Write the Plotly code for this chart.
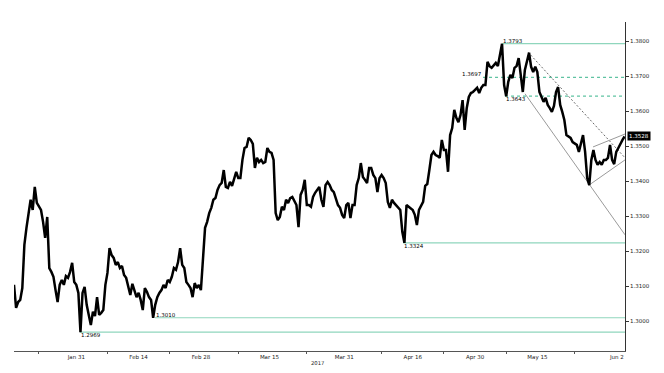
import pandas as pd
import plotly.graph_objects as go

# USD/CAD, 3 readings per trading day (00:00, 08:00, 16:00), 17 Jan - 2 Jun 2017
prices = [
    1.3104, 1.3038, 1.3055, 1.3061, 1.3095, 1.3218, 1.3267, 1.3312, 1.3347,
    1.3318, 1.3384, 1.3338, 1.3327, 1.3318, 1.3284, 1.3238, 1.3298, 1.3152,
    1.3141, 1.3127, 1.3089, 1.3055, 1.3104, 1.3118, 1.3104, 1.3129, 1.3124,
    1.3141, 1.3167, 1.3112, 1.3104, 1.3081, 1.2969, 1.3081, 1.3098, 1.3047,
    1.3018, 1.2989, 1.3027, 1.3015, 1.3069, 1.3018, 1.3024, 1.3032, 1.3104,
    1.3138, 1.3209, 1.3189, 1.3181, 1.3161, 1.3169, 1.3152, 1.3158, 1.3132,
    1.3124, 1.3095, 1.3075, 1.3107, 1.3089, 1.3069, 1.3081, 1.3061, 1.3032,
    1.3095, 1.3084, 1.3069, 1.3061, 1.3010, 1.3047, 1.3069, 1.3081, 1.3089,
    1.3104, 1.3095, 1.3118, 1.3112, 1.3127, 1.3152, 1.3147, 1.3169, 1.3209,
    1.3161, 1.3152, 1.3112, 1.3104, 1.3095, 1.3069, 1.3109, 1.3095, 1.3104,
    1.3089, 1.3184, 1.3267, 1.3284, 1.3309, 1.3324, 1.3347, 1.3352, 1.3375,
    1.3389, 1.3395, 1.3432, 1.3384, 1.3381, 1.3398, 1.3387, 1.3404, 1.3427,
    1.3409, 1.3409, 1.3461, 1.3495, 1.3498, 1.3524, 1.3518, 1.3507, 1.3438,
    1.3467, 1.3455, 1.3461, 1.3452, 1.3455, 1.3495, 1.3484, 1.3481, 1.3461,
    1.3309, 1.3289, 1.3298, 1.3327, 1.3318, 1.3347, 1.3338, 1.3352, 1.3355,
    1.3341, 1.3332, 1.3269, 1.3361, 1.3375, 1.3404, 1.3332, 1.3332, 1.3327,
    1.3355, 1.3367, 1.3375, 1.3384, 1.3347, 1.3327, 1.3389, 1.3398, 1.3389,
    1.3375, 1.3369, 1.3347, 1.3332, 1.3324, 1.3304, 1.3295, 1.3332, 1.3338,
    1.3295, 1.3332, 1.3332, 1.3389, 1.3409, 1.3452, 1.3412, 1.3404, 1.3395,
    1.3438, 1.3438, 1.3418, 1.3409, 1.3369, 1.3409, 1.3418, 1.3409, 1.3395,
    1.3341, 1.3324, 1.3347, 1.3338, 1.3332, 1.3327, 1.3318, 1.3255, 1.3224,
    1.3332, 1.3327, 1.3321, 1.3318, 1.3304, 1.3275, 1.3318, 1.3332, 1.3341,
    1.3387, 1.3392, 1.3432, 1.3475, 1.3484, 1.3475, 1.3472, 1.3467, 1.3518,
    1.3489, 1.3489, 1.3427, 1.3532, 1.3552, 1.3604, 1.3581, 1.3569, 1.3589,
    1.3632, 1.3547, 1.3609, 1.3641, 1.3652, 1.3655, 1.3661, 1.3667, 1.3652,
    1.3667, 1.3675, 1.3675, 1.3741, 1.3729, 1.3724, 1.3732, 1.3738, 1.3729,
    1.3761, 1.3793, 1.3675, 1.3643, 1.3684, 1.3704, 1.3695, 1.3724, 1.3729,
    1.3752, 1.3704, 1.3655, 1.3718, 1.3741, 1.3767, 1.3727, 1.3712, 1.3727,
    1.3712, 1.3655, 1.3638, 1.3627, 1.3638, 1.3618, 1.3609, 1.3598, 1.3615,
    1.3655, 1.3669, 1.3618, 1.3598, 1.3575, 1.3532, 1.3529, 1.3524, 1.3512,
    1.3507, 1.3504, 1.3484, 1.3512, 1.3532, 1.3484, 1.3409, 1.3389, 1.3461,
    1.3489, 1.3461, 1.3447, 1.3455, 1.3447, 1.3461, 1.3461, 1.3467, 1.3504,
    1.3461, 1.3449, 1.3484, 1.3495, 1.3509, 1.3518, 1.3528,
]
last_price = 1.3528

days = pd.bdate_range("2017-01-17", "2017-06-02")
times = [d + pd.Timedelta(hours=h) for d in days for h in (0, 8, 16)][:len(prices)]

x_start = "2017-01-17 00:00"
x_end = "2017-06-02 01:40"

# support / resistance levels
level_vals = [1.3793, 1.3697, 1.3643, 1.3224, 1.3010, 1.2969]
level_from = ["2017-05-05 08:00", "2017-05-02 06:45", "2017-05-05 19:30",
              "2017-04-13 10:30", "2017-02-16 15:00", "2017-01-31 14:00"]
level_dash = ["solid", "dash", "dash", "solid", "solid", "solid"]
level_text = ["1.3793", "1.3697", "1.3643", "1.3324", "1.3010", "1.2969"]
level_pos = ["above", "left", "below", "below", "above", "below"]

# trend lines (start, end)
trend_lower = (["2017-05-11 00:30", x_end], [1.3650, 1.3247])
trend_upper = (["2017-05-11 12:00", x_end], [1.3769, 1.3467])
chan_upper = (["2017-05-25 22:30", x_end], [1.3498, 1.3535])
chan_lower = (["2017-05-25 07:00", x_end], [1.3389, 1.3461])

y_ticks = [1.30, 1.31, 1.32, 1.33, 1.34, 1.35, 1.36, 1.37, 1.38]
x_label_vals = ["2017-01-31", "2017-02-14", "2017-02-28", "2017-03-15",
                "2017-03-31", "2017-04-17", "2017-05-01", "2017-05-15"]
x_label_text = ["Jan 31", "Feb 14", "Feb 28", "Mar 15", "Mar 31", "Apr 16",
                "Apr 30", "May 15"]
x_minor_vals = ["2017-01-23", "2017-02-07", "2017-02-21", "2017-03-08",
                "2017-03-23", "2017-04-10", "2017-04-24", "2017-05-08",
                "2017-05-23"]

GREEN = "#8fd6bd"
GREEN_D = "#5fc3a2"
FONT = "DejaVu Sans"

fig = go.Figure()

for v, x0, dash in zip(level_vals, level_from, level_dash):
    fig.add_trace(go.Scatter(
        x=[x0, x_end], y=[v, v], mode="lines", hoverinfo="skip",
        line=dict(color=GREEN if dash == "solid" else GREEN_D, width=1.2,
                  dash="solid" if dash == "solid" else "3px,3px")))

for xs, ys, dash, col in [
    (*trend_lower, "solid", "#9a9a9a"),
    (*trend_upper, "2px,2px", "#6a6a6a"),
    (*chan_upper, "solid", "#9a9a9a"),
    (*chan_lower, "solid", "#9a9a9a"),
]:
    fig.add_trace(go.Scatter(x=xs, y=ys, mode="lines", hoverinfo="skip",
                             line=dict(color=col, width=1, dash=dash)))

fig.add_trace(go.Scatter(x=times, y=prices, mode="lines",
                         line=dict(color="#000000", width=2.5)))

ann_font = dict(family=FONT, size=5.5, color="#000000")
for v, x0, txt, pos in zip(level_vals, level_from, level_text, level_pos):
    if pos == "above":
        a = dict(xanchor="left", yanchor="bottom", yshift=-1)
    elif pos == "below":
        a = dict(xanchor="left", yanchor="top", yshift=1)
    else:
        a = dict(xanchor="right", yanchor="bottom", yshift=-1)
    fig.add_annotation(x=x0, y=v, text=txt, showarrow=False, font=ann_font,
                       borderpad=0, **a)

fig.add_annotation(xref="paper", x=1, y=last_price, text="%.4f" % last_price,
                   showarrow=False, xanchor="left", xshift=2, bgcolor="#000000",
                   font=dict(family=FONT, size=5.5, color="#ffffff"), borderpad=1)
fig.add_annotation(xref="paper", yref="paper", x=1, y=0, yshift=-2, text="Jun 2",
                   showarrow=False, xanchor="right", yanchor="top",
                   font=dict(family=FONT, size=5.5, color="#222222"), borderpad=0)
fig.add_annotation(xref="paper", yref="paper", x=0.4975, y=0, yshift=-8, text="2017",
                   showarrow=False, xanchor="center", yanchor="top",
                   font=dict(family=FONT, size=5.3, color="#222222"), borderpad=0)

fig.update_layout(
    width=664, height=373,
    margin=dict(l=14, r=39, t=22, b=22),
    paper_bgcolor="#ffffff", plot_bgcolor="#ffffff",
    showlegend=False,
    font=dict(family=FONT, size=5.5, color="#222222"),
    xaxis=dict(
        type="date", range=[x_start, x_end],
        rangebreaks=[dict(bounds=["sat", "mon"])],
        tickvals=x_label_vals, ticktext=x_label_text, ticks="",
        showgrid=False, zeroline=False, showline=True, linecolor="#555555",
        linewidth=1, tickfont=dict(family=FONT, size=5.5, color="#222222"),
        minor=dict(tickvals=x_minor_vals, ticks="outside", ticklen=2,
                   tickcolor="#555555", showgrid=False),
    ),
    yaxis=dict(
        side="right", range=[1.2915, 1.3855], tickvals=y_ticks,
        tickformat=".4f", ticks="outside", ticklen=3, tickcolor="#333333",
        showgrid=False, zeroline=False, showline=True, linecolor="#333333",
        linewidth=1, tickfont=dict(family=FONT, size=5.5, color="#222222"),
    ),
)

fig.write_html("out.html")
